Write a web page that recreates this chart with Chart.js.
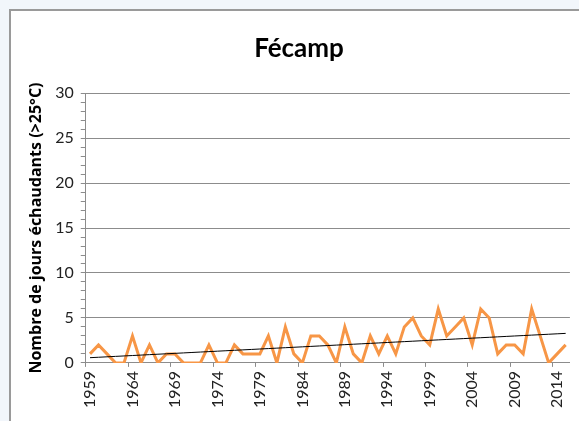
<!DOCTYPE html>
<html>
<head>
<meta charset="utf-8">
<script src="https://cdn.jsdelivr.net/npm/chart.js@4.4.1/dist/chart.umd.min.js"></script>
<style>
  html, body { margin: 0; padding: 0; width: 579px; height: 421px; overflow: hidden; background: #f2f6fb; }
  #frame { position: absolute; left: 9px; top: 9px; width: 590px; height: 430px; background: #fff; border-left: 2px solid #9a9a9a; border-top: 2px solid #9a9a9a; }
  #wrap { position: absolute; left: 0; top: 0; width: 578px; height: 420px; }
</style>
</head>
<body>
<div id="frame"><div id="wrap"><canvas id="myChart"></canvas></div></div>
<script>
// years 1959..2015
const years = [];
for (let y = 1959; y <= 2015; y++) years.push(String(y));

// nombre de jours échaudants par an
const hotDays = [
  1, 2, 1, 0, 0, 3, 0, 2, 0, 1,   // 1959-1968
  1, 0, 0, 0, 2, 0, 0, 2, 1, 1,   // 1969-1978
  1, 3, 0, 4, 1, 0, 3, 3, 2, 0,   // 1979-1988
  4, 1, 0, 3, 1, 3, 1, 4, 5, 3,   // 1989-1998
  2, 6, 3, 4, 5, 2, 6, 5, 1, 2,   // 1999-2008
  2, 1, 6, 3, 0, 1, 2             // 2009-2015
];

const yTicks = [0, 5, 10, 15, 20, 25, 30];

// linear trend (least squares) like the Excel trendline
function trend(values) {
  const n = values.length;
  let sx = 0, sy = 0, sxy = 0, sxx = 0;
  values.forEach((v, i) => { sx += i; sy += v; sxy += i * v; sxx += i * i; });
  const b = (n * sxy - sx * sy) / (n * sxx - sx * sx);
  const a = (sy - b * sx) / n;
  return values.map((v, i) => a + b * i);
}

const gridGray = '#8c8c8c';
const font = 'Lato, "Open Sans", sans-serif';

const ctx = document.getElementById('myChart').getContext('2d');
const myChart = new Chart(ctx, {
  type: 'line',
  data: {
    labels: years,
    datasets: [
      {
        label: 'Fécamp',
        data: hotDays,
        borderColor: '#f79646',
        borderWidth: 3,
        pointRadius: 0,
        tension: 0,
        order: 2
      },
      {
        label: 'Tendance',
        data: trend(hotDays),
        borderColor: '#000',
        borderWidth: 1,
        pointRadius: 0,
        order: 1
      }
    ]
  },
  options: {
    responsive: true,
    maintainAspectRatio: false,
    animation: false,
    layout: { padding: { left: 14, right: 16, top: 0, bottom: 19 } },
    plugins: {
      legend: { display: false },
      tooltip: { enabled: false },
      title: {
        display: true,
        text: 'Fécamp',
        color: '#000',
        font: { family: font, size: 26, weight: 'bold' },
        padding: { top: 22, bottom: 29 }
      }
    },
    scales: {
      x: {
        offset: true,
        grid: {
          offset: true,
          drawOnChartArea: false,
          color: c => (c.index % 5 === 0 ? gridGray : 'transparent'),
          tickColor: c => (c.index % 5 === 0 ? gridGray : 'transparent'),
          tickLength: 4
        },
        border: { color: gridGray },
        ticks: {
          autoSkip: false,
          minRotation: 90,
          maxRotation: 90,
          padding: 4,
          color: '#222',
          font: { family: font, size: 16 },
          callback: (v, i) => (i % 5 === 0 ? years[i] : '')
        }
      },
      y: {
        min: 0,
        max: 30,
        grid: {
          color: c => (yTicks.includes(c.tick.value) ? gridGray : 'transparent'),
          tickColor: gridGray,
          tickLength: 5
        },
        border: { color: gridGray },
        ticks: {
          stepSize: 1,
          autoSkip: false,
          padding: 7,
          color: '#222',
          font: { family: font, size: 16 },
          callback: v => (yTicks.includes(v) ? v : '')
        },
        title: {
          display: true,
          text: 'Nombre de jours échaudants (>25°C)',
          color: '#000',
          font: { family: '"Open Sans", sans-serif', size: 16, weight: 'bold' },
          padding: 2
        }
      }
    }
  }
});
</script>
</body>
</html>
